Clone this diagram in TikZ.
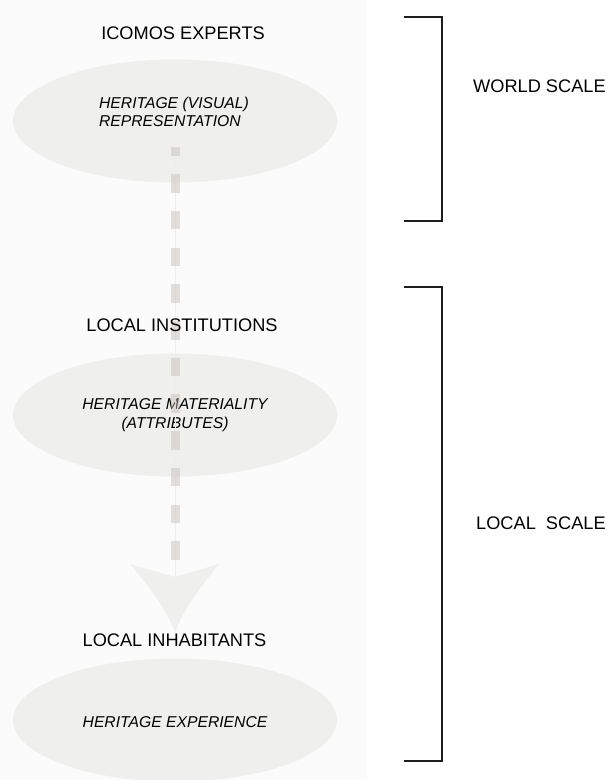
\documentclass[tikz,border=0pt]{standalone}
\usepackage{fontspec}
\setmainfont{Liberation Sans}
\usepackage{xcolor}
\definecolor{myshade}{RGB}{250,251,250}
\definecolor{mygrey}{RGB}{239,239,238}
\definecolor{mydash}{RGB}{200,186,180}
\definecolor{myline}{RGB}{30,30,30}
\usetikzlibrary{shapes.geometric}

\begin{document}
\begin{tikzpicture}[x=1pt,y=-1pt,line cap=butt]
	\tikzstyle{blob}=[ellipse,fill=mygrey,minimum width=324pt,minimum height=123pt,inner sep=0pt];
	\tikzstyle{actor}=[inner sep=0pt,font=\fontsize{18.2}{21}\selectfont];
	\tikzstyle{idea}=[inner sep=0pt,font=\fontsize{15.7}{18.5}\selectfont\itshape];
	\tikzstyle{brace}=[draw=myline,line width=1.3pt,line join=miter];
	\useasboundingbox (0,0) rectangle (606,780);
	\clip (0,0) rectangle (606,780);
	\fill[myshade] (0,0) rectangle (367,780);
	\node[blob] (visual) at (175,121) {};
	\node[blob] (matter) at (175,415) {};
	\node[blob] (living) at (175,720) {};
	\node[idea,align=left] (repr) at (174,112) {HERITAGE (VISUAL)\\REPRESENTATION};
	\node[idea,align=center] (attr) at (175,415) {HERITAGE MATERIALITY\\(ATTRIBUTES)};
	\node[idea] (expe) at (175,722) {HERITAGE EXPERIENCE};
	\coordinate (top) at (175,147);
	\coordinate (end) at (175,560);
	\coordinate (notch) at (175,577);
	\coordinate (tip) at (175,632);
	\coordinate (wl) at (130,564);
	\coordinate (wr) at (219,564);
	\draw[myline!8,line width=0.8pt] (top) -- (notch);
	\draw[mydash,opacity=0.45,line width=9pt,dash pattern=on 18.5pt off 18.2pt,dash phase=9.5pt] (top) -- (end);
	\fill[mygrey] (wl) .. controls (147,584) and (166,608) .. (tip)
		.. controls (184,608) and (203,584) .. (wr) -- (notch) -- cycle;
	\node[actor] (icomos) at (183,33) {ICOMOS EXPERTS};
	\node[actor] (inst) at (182,325) {LOCAL INSTITUTIONS};
	\node[actor] (inhab) at (174.5,640) {LOCAL INHABITANTS};
	\draw[brace] (404,17) -- (442,17) -- (442,221) -- (404,221);
	\draw[brace] (404,287) -- (442,287) -- (442,761) -- (404,761);
	\node[actor,anchor=west] (world) at (473,86) {WORLD SCALE};
	\node[actor,anchor=west] (local) at (476,523) {LOCAL\ \ SCALE};
\end{tikzpicture}
\end{document}
